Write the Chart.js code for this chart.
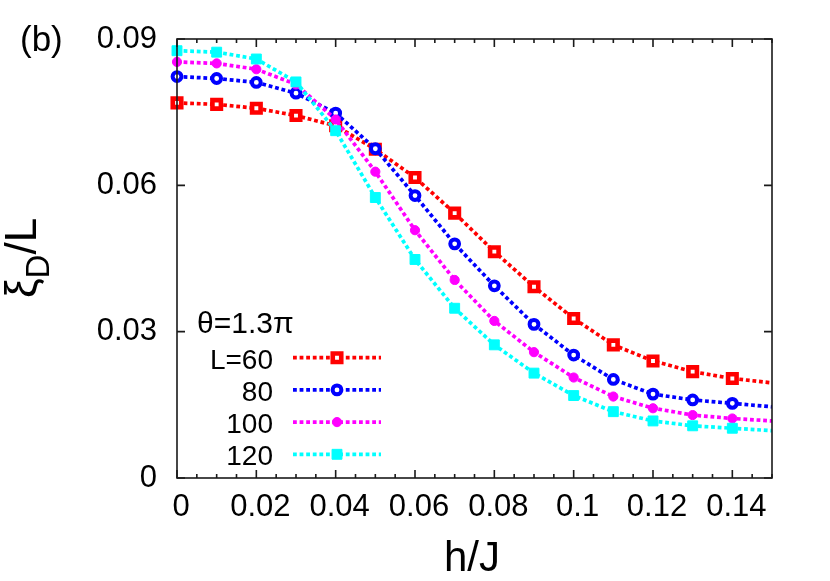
<!DOCTYPE html>
<html><head><meta charset="utf-8">
<script src="https://cdn.jsdelivr.net/npm/chart.js@4/dist/chart.umd.min.js"></script>
<style>html,body{margin:0;padding:0;background:#fff}canvas{display:block}</style>
</head><body>
<canvas id="c" width="830" height="581"></canvas>
<script>
// ---- data ----
const hValues   = [0, 0.01, 0.02, 0.03, 0.04, 0.05, 0.06, 0.07, 0.08, 0.09, 0.10, 0.11, 0.12, 0.13, 0.14, 0.15];
const seriesL60  = [0.0769, 0.0766, 0.0758, 0.0743, 0.0722, 0.0674, 0.0616, 0.0543, 0.0464, 0.0392, 0.0327, 0.0273, 0.0240, 0.0218, 0.0204, 0.0195];
const seriesL80  = [0.0823, 0.0819, 0.0811, 0.0789, 0.0748, 0.0675, 0.0579, 0.0480, 0.0394, 0.0315, 0.0252, 0.0202, 0.0172, 0.0160, 0.0153, 0.0146];
const seriesL100 = [0.0853, 0.0850, 0.0838, 0.0807, 0.0735, 0.0628, 0.0508, 0.0406, 0.0322, 0.0258, 0.0206, 0.0167, 0.0143, 0.0129, 0.0122, 0.0117];
const seriesL120 = [0.0876, 0.0873, 0.0859, 0.0812, 0.0712, 0.0575, 0.0448, 0.0348, 0.0273, 0.0215, 0.0169, 0.0136, 0.0117, 0.0107, 0.0102, 0.0097];
const seriesLabels = ['L=60', '80', '100', '120'];
const legendTitle = 'θ=1.3π';
const xTicks = [0, 0.02, 0.04, 0.06, 0.08, 0.1, 0.12, 0.14];
const xTickLabels = ['0', '0.02', '0.04', '0.06', '0.08', '0.1', '0.12', '0.14'];
const xMinorStep = 0.005;
const yTicks = [0, 0.03, 0.06, 0.09];
const yTickLabels = ['0', '0.03', '0.06', '0.09'];
const panelLabel = '(b)';
const xTitle = 'h/J';
const yTitleMain = 'ξ', yTitleSub = 'D', yTitleRest = '/L';

// ---- styles ----
const FONT = '"Liberation Sans", Arial, Helvetica, sans-serif';
Chart.defaults.font.family = FONT;
Chart.defaults.color = '#000';

const styles = [
  {color: '#ff0000', pointStyle: 'rect',   radius: 6.0, borderWidth: 4.6, fill: '#ffffff'},
  {color: '#0000ff', pointStyle: 'circle', radius: 4.4, borderWidth: 4.0, fill: '#ffffff'},
  {color: '#ff00ff', pointStyle: 'circle', radius: 4.6, borderWidth: 1,   fill: '#ff00ff'},
  {color: '#00ffff', pointStyle: 'rect',   radius: 7.0, borderWidth: 1,   fill: '#00ffff'}
];
const allSeries = [seriesL60, seriesL80, seriesL100, seriesL120];
const DASH = [3.8, 2.8];
const LINE_W = 3.7;

const datasets = allSeries.map((s, i) => ({
  label: seriesLabels[i],
  data: hValues.map((h, k) => ({x: h, y: s[k]})),
  borderColor: styles[i].color,
  borderWidth: LINE_W,
  borderDash: DASH,
  tension: 0,
  fill: false,
  pointStyle: styles[i].pointStyle,
  pointRadius: ctx => (ctx.dataIndex === hValues.length - 1 ? 0 : styles[i].radius),
  pointBorderWidth: styles[i].borderWidth,
  pointBorderColor: styles[i].color,
  pointBackgroundColor: styles[i].fill,
  order: allSeries.length - i,
  clip: {left: 12, top: 12, right: 0, bottom: 0}
}));

const decor = {
  id: 'decor',
  afterDatasetsDraw(chart) {
    const ctx = chart.ctx, a = chart.chartArea, xs = chart.scales.x, ys = chart.scales.y;
    ctx.save();
    // frame
    ctx.strokeStyle = '#1a1a1a';
    ctx.lineWidth = 1.6;
    ctx.strokeRect(a.left, a.top, a.right - a.left, a.bottom - a.top);
    // x ticks (major + minor), mirrored on top
    ctx.beginPath();
    const nMinor = Math.round((xs.max - xs.min) / xMinorStep);
    for (let i = 0; i <= nMinor; i++) {
      const v = xs.min + i * xMinorStep;
      const px = xs.getPixelForValue(v);
      const major = xTicks.some(t => Math.abs(t - v) < 1e-9);
      const len = major ? 8 : 4;
      ctx.moveTo(px, a.bottom); ctx.lineTo(px, a.bottom - len);
      ctx.moveTo(px, a.top); ctx.lineTo(px, a.top + len);
    }
    yTicks.forEach(v => {
      const py = ys.getPixelForValue(v);
      ctx.moveTo(a.left, py); ctx.lineTo(a.left + 8, py);
      ctx.moveTo(a.right, py); ctx.lineTo(a.right - 8, py);
    });
    ctx.stroke();

    ctx.fillStyle = '#000';
    // panel label
    ctx.font = '35px ' + FONT;
    ctx.textAlign = 'left';
    ctx.textBaseline = 'alphabetic';
    ctx.fillText(panelLabel, 20, 51);
    // x title
    ctx.font = '42px ' + FONT;
    ctx.textAlign = 'center';
    ctx.fillText(xTitle, 472, 571);
    // y title (rotated, with subscript)
    ctx.save();
    ctx.translate(36, 258);
    ctx.rotate(-Math.PI / 2);
    ctx.textAlign = 'left';
    const fMain = '44px ' + FONT, fSub = '33px ' + FONT;
    ctx.font = fMain; const w1 = ctx.measureText(yTitleMain).width;
    const w3 = ctx.measureText(yTitleRest).width;
    ctx.font = fSub; const w2 = ctx.measureText(yTitleSub).width;
    let x0 = -(w1 + w2 + w3) / 2;
    ctx.font = fMain; ctx.fillText(yTitleMain, x0, 0); x0 += w1;
    ctx.font = fSub; ctx.fillText(yTitleSub, x0, 13); x0 += w2;
    ctx.font = fMain; ctx.fillText(yTitleRest, x0, 0);
    ctx.restore();

    // legend
    ctx.font = '30px ' + FONT;
    ctx.textAlign = 'left';
    ctx.fillText(legendTitle, 197, 333);
    ctx.font = '28px ' + FONT;
    ctx.textAlign = 'right';
    const rowY0 = 357.7, rowStep = 32.2, lx1 = 293, lx2 = 381, mx = 337;
    chart.data.datasets.forEach((ds, i) => {
      const y = rowY0 + i * rowStep;
      ctx.fillStyle = '#000';
      ctx.fillText(ds.label, 273, y + 11);
      ctx.save();
      ctx.strokeStyle = styles[i].color;
      ctx.lineWidth = LINE_W;
      ctx.setLineDash(DASH);
      ctx.beginPath(); ctx.moveTo(lx1, y); ctx.lineTo(lx2, y); ctx.stroke();
      ctx.setLineDash([]);
      ctx.fillStyle = styles[i].fill;
      ctx.strokeStyle = styles[i].color;
      ctx.lineWidth = styles[i].borderWidth;
      Chart.helpers.drawPoint(ctx, {pointStyle: styles[i].pointStyle, rotation: 0,
        radius: styles[i].radius, borderWidth: styles[i].borderWidth}, mx, y);
      ctx.restore();
    });
    ctx.restore();
  }
};

new Chart(document.getElementById('c'), {
  type: 'line',
  data: {datasets},
  plugins: [decor],
  options: {
    responsive: false,
    animation: false,
    events: [],
    layout: {padding: {top: 39, right: 58, left: 0, bottom: 0}},
    plugins: {legend: {display: false}, tooltip: {enabled: false}},
    scales: {
      x: {
        type: 'linear', min: 0, max: 0.15,
        afterBuildTicks: s => { s.ticks = xTicks.map(v => ({value: v})); },
        afterFit: s => { s.height = 103; },
        grid: {display: false, drawTicks: false},
        border: {display: false},
        ticks: {
          autoSkip: false, maxRotation: 0, padding: 11, labelOffset: 4,
          font: {size: 31}, color: '#000',
          callback: (v, i) => xTickLabels[i]
        }
      },
      y: {
        type: 'linear', min: 0, max: 0.09,
        afterBuildTicks: s => { s.ticks = yTicks.map(v => ({value: v})); },
        afterFit: s => { s.width = 177; },
        grid: {display: false, drawTicks: false},
        border: {display: false},
        ticks: {
          autoSkip: false, padding: 20,
          font: {size: 31}, color: '#000',
          callback: (v, i) => yTickLabels[i]
        }
      }
    }
  }
});
</script>
</body></html>
